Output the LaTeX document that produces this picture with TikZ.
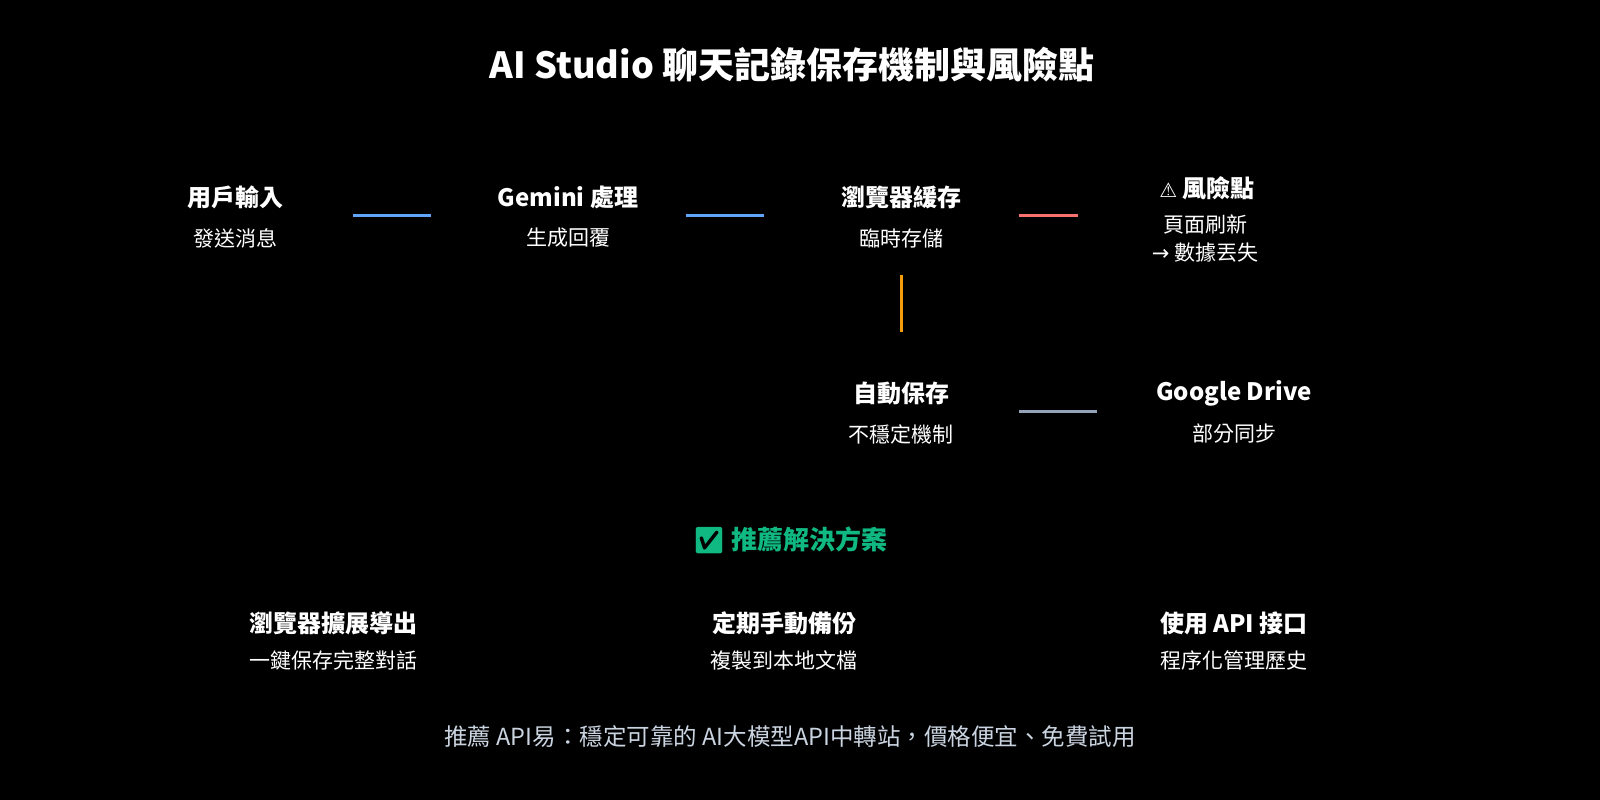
\documentclass[tikz,border=0pt]{standalone}
\usepackage{fontspec}
\setmainfont{Noto Sans CJK TC}
\newfontfamily\emo{Noto Emoji}
\newfontfamily\djv{DejaVu Sans}
\begin{document}
\begin{tikzpicture}[x=1pt,y=-1pt,
  ttl/.style={font=\fontsize{24}{28}\selectfont\bfseries,text=white,inner sep=0},
  sub/.style={font=\fontsize{21}{25}\selectfont,text=white,inner sep=0},
  conn/.style={line width=3pt}]
\fill[black] (0,0) rectangle (1600,800);
\node[inner sep=0,text=white,font=\fontsize{36}{40}\selectfont\bfseries] (title) at (792,65) {AI Studio 聊天記錄保存機制與風險點};
\node[ttl] (a1) at (235,197) {用戶輸入};
\node[sub] (a2) at (235,238) {發送消息};
\node[ttl] (b1) at (568,197) {Gemini 處理};
\node[sub] (b2) at (568,238) {生成回覆};
\node[ttl] (c1) at (901,197) {瀏覽器緩存};
\node[sub] (c2) at (901,238) {臨時存儲};
\node[ttl] (d1) at (1207,188) {{\djv\fontsize{20}{24}\selectfont ⚠} 風險點};
\node[sub] (d2) at (1205,224) {頁面刷新};
\node[sub] (d3) at (1205,253) {{\djv →} 數據丟失};
\node[ttl] (e1) at (901,393) {自動保存};
\node[sub] (e2) at (901,434) {不穩定機制};
\node[ttl] (f1) at (1234,393) {Google Drive};
\node[sub] (f2) at (1234,434) {部分同步};
\coordinate (l1a) at (353,215); \coordinate (l1b) at (431,215);
\coordinate (l2a) at (686,215); \coordinate (l2b) at (764,215);
\coordinate (l3a) at (1019,215); \coordinate (l3b) at (1078,215);
\coordinate (l4a) at (901,275); \coordinate (l4b) at (901,332);
\coordinate (l5a) at (1019,411); \coordinate (l5b) at (1097,411);
\draw[conn,color={rgb,255:red,96;green,165;blue,250}] (l1a)--(l1b);
\draw[conn,color={rgb,255:red,96;green,165;blue,250}] (l2a)--(l2b);
\draw[conn,color={rgb,255:red,248;green,113;blue,113}] (l3a)--(l3b);
\draw[conn,color={rgb,255:red,245;green,158;blue,11}] (l4a)--(l4b);
\draw[conn,color={rgb,255:red,148;green,163;blue,184}] (l5a)--(l5b);
\node[inner sep=0,font=\fontsize{26}{30}\selectfont\bfseries,text={rgb,255:red,16;green,185;blue,129}] (g) at (790,540) {{\emo ✅} 推薦解決方案};
\node[ttl] (h1) at (333,623) {瀏覽器擴展導出};
\node[sub] (h2) at (333,660) {一鍵保存完整對話};
\node[ttl] (i1) at (784,623) {定期手動備份};
\node[sub] (i2) at (784,660) {複製到本地文檔};
\node[ttl] (j1) at (1234,623) {使用 API 接口};
\node[sub] (j2) at (1234,660) {程序化管理歷史};
\node[inner sep=0,font=\fontsize{23.5}{27}\selectfont,text={rgb,255:red,203;green,213;blue,225}] (ft) at (790,737) {推薦 API易：穩定可靠的 AI大模型API中轉站，價格便宜、免費試用};
\end{tikzpicture}
\end{document}
